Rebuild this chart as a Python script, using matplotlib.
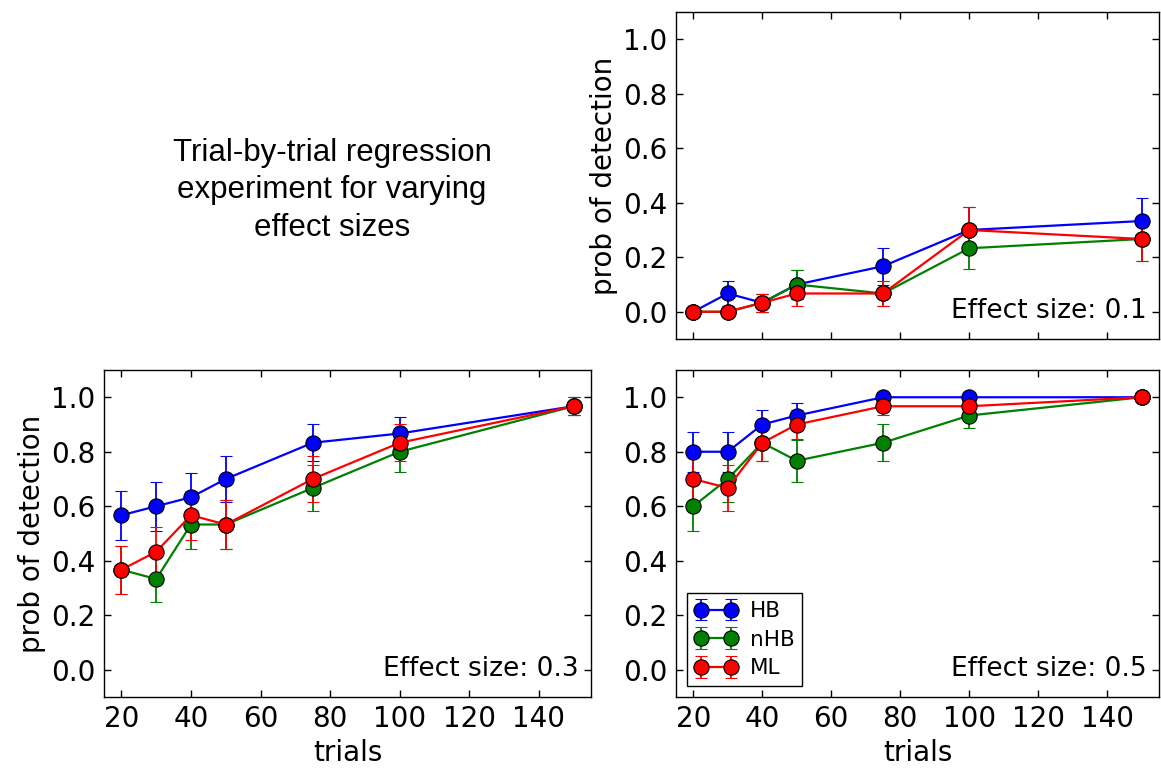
import matplotlib
matplotlib.use("Agg")
import matplotlib.pyplot as plt

trials = [20, 30, 40, 50, 75, 100, 150]
series_names = ["HB", "nHB", "ML"]
series_colors = ["blue", "green", "red"]

# Effect size 0.1
hb_01 = [0.000, 0.067, 0.033, 0.100, 0.167, 0.300, 0.333]
hb_01_err = [0.0, 0.046, 0.033, 0.055, 0.068, 0.084, 0.086]
nhb_01 = [0.000, 0.000, 0.033, 0.100, 0.067, 0.233, 0.267]
nhb_01_err = [0.0, 0.0, 0.033, 0.055, 0.046, 0.077, 0.081]
ml_01 = [0.000, 0.000, 0.033, 0.067, 0.067, 0.300, 0.267]
ml_01_err = [0.0, 0.0, 0.033, 0.046, 0.046, 0.084, 0.081]

# Effect size 0.3
hb_03 = [0.567, 0.600, 0.633, 0.700, 0.833, 0.867, 0.967]
hb_03_err = [0.090, 0.089, 0.088, 0.084, 0.068, 0.062, 0.033]
nhb_03 = [0.367, 0.333, 0.533, 0.533, 0.667, 0.800, 0.967]
nhb_03_err = [0.088, 0.086, 0.091, 0.091, 0.086, 0.073, 0.033]
ml_03 = [0.367, 0.433, 0.567, 0.533, 0.700, 0.833, 0.967]
ml_03_err = [0.088, 0.090, 0.090, 0.091, 0.084, 0.068, 0.033]

# Effect size 0.5
hb_05 = [0.800, 0.800, 0.900, 0.933, 1.000, 1.000, 1.000]
hb_05_err = [0.073, 0.073, 0.055, 0.046, 0.0, 0.0, 0.0]
nhb_05 = [0.600, 0.700, 0.833, 0.767, 0.833, 0.933, 1.000]
nhb_05_err = [0.089, 0.084, 0.068, 0.077, 0.068, 0.046, 0.0]
ml_05 = [0.700, 0.667, 0.833, 0.900, 0.967, 0.967, 1.000]
ml_05_err = [0.084, 0.086, 0.068, 0.055, 0.033, 0.033, 0.0]

yticks = [0.0, 0.2, 0.4, 0.6, 0.8, 1.0]
xticks = [20, 40, 60, 80, 100, 120, 140]
title_text = "Trial-by-trial regression\nexperiment for varying\neffect sizes"

W, H = 1161, 770
fig = plt.figure(figsize=(W / 100, H / 100), dpi=100)
fig.patch.set_facecolor("white")


def frac(l, r, t, b):
    return [l / W, 1 - b / H, (r - l) / W, (b - t) / H]


ax_tr = fig.add_axes(frac(676, 1159, 12, 339))
ax_bl = fig.add_axes(frac(104, 591, 370, 697))
ax_br = fig.add_axes(frac(676, 1159, 370, 697))

panels = [
    (ax_tr, [(hb_01, hb_01_err), (nhb_01, nhb_01_err), (ml_01, ml_01_err)], "0.1"),
    (ax_bl, [(hb_03, hb_03_err), (nhb_03, nhb_03_err), (ml_03, ml_03_err)], "0.3"),
    (ax_br, [(hb_05, hb_05_err), (nhb_05, nhb_05_err), (ml_05, ml_05_err)], "0.5"),
]

for ax, data, eff in panels:
    for (vals, errs), name, col in zip(data, series_names, series_colors):
        ax.errorbar(trials, vals, yerr=errs, fmt="-o", color=col, ecolor=col,
                    mfc=col, mec="black", mew=0.8, ms=11, lw=1.6,
                    elinewidth=1.3, capsize=4, capthick=1.3, label=name)
    ax.set_xlim(15, 155)
    ax.set_ylim(-0.1, 1.1)
    ax.set_xticks(xticks)
    ax.set_yticks(yticks)
    ax.tick_params(direction="in", top=True, right=True, length=5, width=1,
                   labelsize=20, pad=6)
    for s in ax.spines.values():
        s.set_linewidth(1.0)
        s.set_color("black")
    ax.text(0.975, 0.045, "Effect size: " + eff, transform=ax.transAxes,
            ha="right", va="bottom", fontsize=19)

ax_tr.set_xticklabels([])
ax_tr.set_ylabel("prob of detection", fontsize=20)
ax_bl.set_ylabel("prob of detection", fontsize=20)
ax_bl.set_xlabel("trials", fontsize=20, labelpad=4)
ax_br.set_xlabel("trials", fontsize=20, labelpad=4)

leg = ax_br.legend(loc="lower left", numpoints=2, fontsize=15.5, fancybox=False,
                   framealpha=1, edgecolor="black", borderaxespad=0.5,
                   handlelength=2.0, handletextpad=0.55, labelspacing=0.4,
                   borderpad=0.37)
leg.get_frame().set_linewidth(1.0)

fig.text(0.286, 0.753, title_text, ha="center", va="center",
         fontsize=22.5, family="Liberation Sans", linespacing=1.32)

fig.savefig("out.png", dpi=100, facecolor="white")
